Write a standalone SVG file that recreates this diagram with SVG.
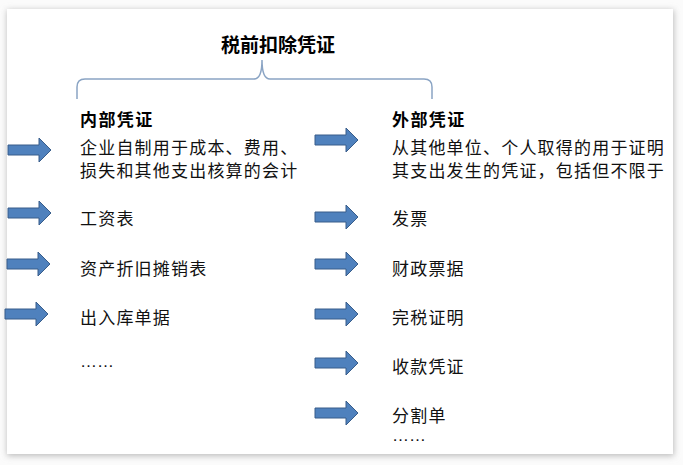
<svg xmlns="http://www.w3.org/2000/svg" xmlns:xlink="http://www.w3.org/1999/xlink" width="683" height="465" viewBox="0 0 683 465">
<style>
.t{font-family:"Noto Sans CJK SC","Noto Sans",sans-serif;font-size:17px;letter-spacing:1.2px;fill:#111}
.h{font-family:"Noto Sans CJK SC","Noto Sans",sans-serif;font-size:17px;font-weight:bold;letter-spacing:1.4px;fill:#000}
.ti{font-family:"Noto Sans CJK SC","Noto Sans",sans-serif;font-size:19px;font-weight:bold;fill:#000}
.dots{font-family:"Liberation Sans",sans-serif;font-size:17px;fill:#111}
.arr{fill:#4F81BD;stroke:#385D8A;stroke-width:1}
.brace{fill:none;stroke:#8AA4C4;stroke-width:1.5}
</style>
<defs>
<filter id="sh" x="-5%" y="-5%" width="110%" height="110%">
<feGaussianBlur stdDeviation="3"/>
</filter>
<path id="a" d="M0,-5 L31,-5 L31,-12 L43,0 L31,12 L31,5 L0,5 Z"/>
</defs>
<rect x="0" y="0" width="683" height="465" fill="#fbfbfb"/>
<rect x="7" y="10" width="667" height="446" fill="#bdbdbd" filter="url(#sh)"/>
<rect x="7" y="9" width="666" height="445" fill="#ffffff"/>
<g id="connectors">
<path class="brace" d="M77,99 L77,87 Q77,79 85,79 L254,79 Q262,79 262,60 Q262,79 270,79 L424,79 Q432,79 432,87 L432,99"/>
</g>
<g id="title"><text class="ti" x="221" y="52">税前扣除凭证</text></g>
<g id="internal">
<use href="#a" class="arr" x="8" y="150"/>
<text class="h" x="80" y="126">内部凭证</text>
<text class="t" x="80" y="154">企业自制用于成本、费用、</text>
<text class="t" x="80" y="177">损失和其他支出核算的会计</text>
</g>
<g id="i1"><use href="#a" class="arr" x="8" y="213"/><text class="t" x="80" y="225">工资表</text></g>
<g id="i2"><use href="#a" class="arr" x="7" y="264"/><text class="t" x="80" y="275">资产折旧摊销表</text></g>
<g id="i3"><use href="#a" class="arr" x="5" y="314"/><text class="t" x="80" y="324">出入库单据</text></g>
<g id="i4"><text class="dots" x="80" y="367">……</text></g>
<g id="external">
<use href="#a" class="arr" x="315" y="140"/>
<text class="h" x="392" y="126">外部凭证</text>
<text class="t" x="392" y="154">从其他单位、个人取得的用于证明</text>
<text class="t" x="392" y="177">其支出发生的凭证，包括但不限于</text>
</g>
<g id="e1"><use href="#a" class="arr" x="315" y="217"/><text class="t" x="392" y="225">发票</text></g>
<g id="e2"><use href="#a" class="arr" x="315" y="264"/><text class="t" x="392" y="275">财政票据</text></g>
<g id="e3"><use href="#a" class="arr" x="315" y="314"/><text class="t" x="392" y="324">完税证明</text></g>
<g id="e4"><use href="#a" class="arr" x="315" y="363"/><text class="t" x="392" y="373">收款凭证</text></g>
<g id="e5"><use href="#a" class="arr" x="315" y="413"/><text class="t" x="392" y="422">分割单</text></g>
<g id="e6"><text class="dots" x="392" y="441">……</text></g>
</svg>
